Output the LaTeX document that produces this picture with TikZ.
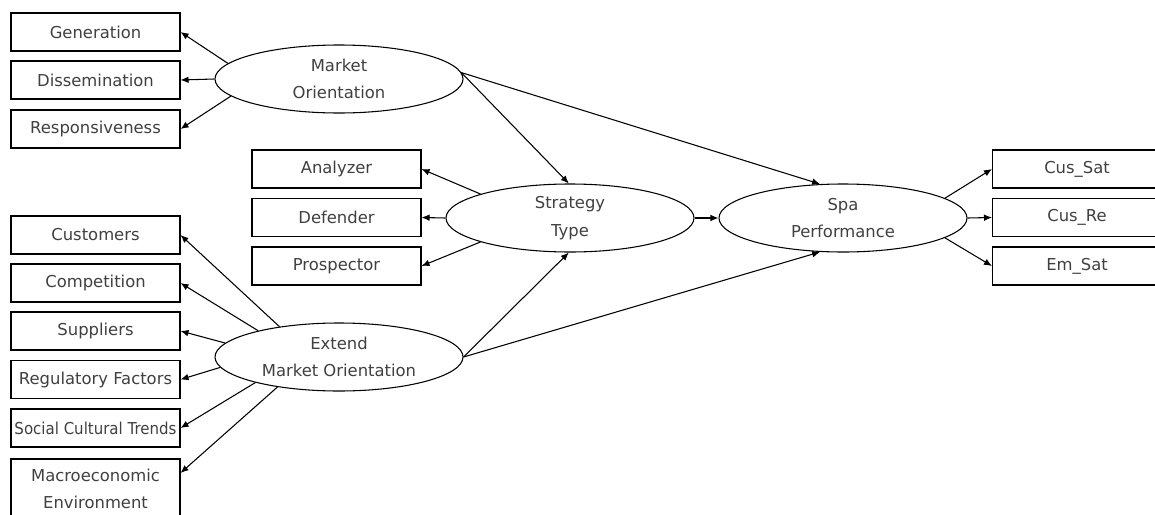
\documentclass[tikz,border=0pt]{standalone}
\usepackage{fontspec}
\setmainfont{DejaVu Sans}
\usetikzlibrary{arrows.meta,shapes.geometric}

\begin{document}
\begin{tikzpicture}[x=0.75pt,y=-0.75pt,->,>={Latex[length=6pt,width=5pt]},
    line width=0.8pt,
    box/.style={rectangle,draw,->=none,minimum width=126.75pt,minimum height=28.5pt,
      inner sep=0pt,align=center,text=black!75,font=\fontsize{12.3}{20.5}\selectfont},
    latent/.style={ellipse,draw,minimum width=186pt,minimum height=51pt,
      inner sep=0pt,align=center,text=black!75,font=\fontsize{12.3}{20.5}\selectfont}]

\useasboundingbox (0,0) rectangle (1155,514);

% latent variables
\node[latent] (mo) at (339,79) {Market\\Orientation};
\node[latent] (st) at (570,218) {Strategy\\Type};
\node[latent] (sp) at (843,218) {Spa\\Performance};
\node[latent] (emo) at (339,357) {Extend\\Market Orientation};

% indicators
\node[box] (gen) at (95.5,32) {Generation};
\node[box] (dis) at (95.5,80) {Dissemination};
\node[box] (res) at (95.5,129) {Responsiveness};

\node[box] (ana) at (336.5,169) {Analyzer};
\node[box] (def) at (336.5,217.5) {Defender};
\node[box] (pro) at (336.5,266) {Prospector};

\node[box] (csat) at (1077,169) {Cus\_Sat};
\node[box] (cre) at (1077,217.5) {Cus\_Re};
\node[box] (esat) at (1077,266) {Em\_Sat};

\node[box] (cus) at (95.5,235) {Customers};
\node[box] (com) at (95.5,283) {Competition};
\node[box] (sup) at (95.5,331) {Suppliers};
\node[box] (reg) at (95.5,379.5) {Regulatory Factors};
\node[box] (soc) at (95.5,428) {\scalebox{0.915}[1]{Social Cultural Trends}};
\node[box,minimum height=45pt] (mac) at (95.5,489) {Macroeconomic\\Environment};

\path
(mo.172) edge (gen.east)
(mo.west) edge (dis.east)
(mo.189) edge (res.east)
(mo.3) edge (st.92)
(mo.3) edge (sp.124)
(st.165) edge (ana.east)
(st.west) edge (def.east)
(st.195) edge (pro.east)
(st.east) edge (sp.west)
(sp.11) edge (csat.west)
(sp.east) edge (cre.west)
(sp.349) edge (esat.west)
(emo.east) edge (st.268)
(emo.east) edge (sp.236)
(emo.153) edge (cus.east)
(emo.162) edge (com.east)
(emo.173) edge (sup.east)
(emo.185) edge (reg.east)
(emo.197) edge (soc.east)
(emo.206) edge ([yshift=12pt]mac.east)
;

\end{tikzpicture}
\end{document}
